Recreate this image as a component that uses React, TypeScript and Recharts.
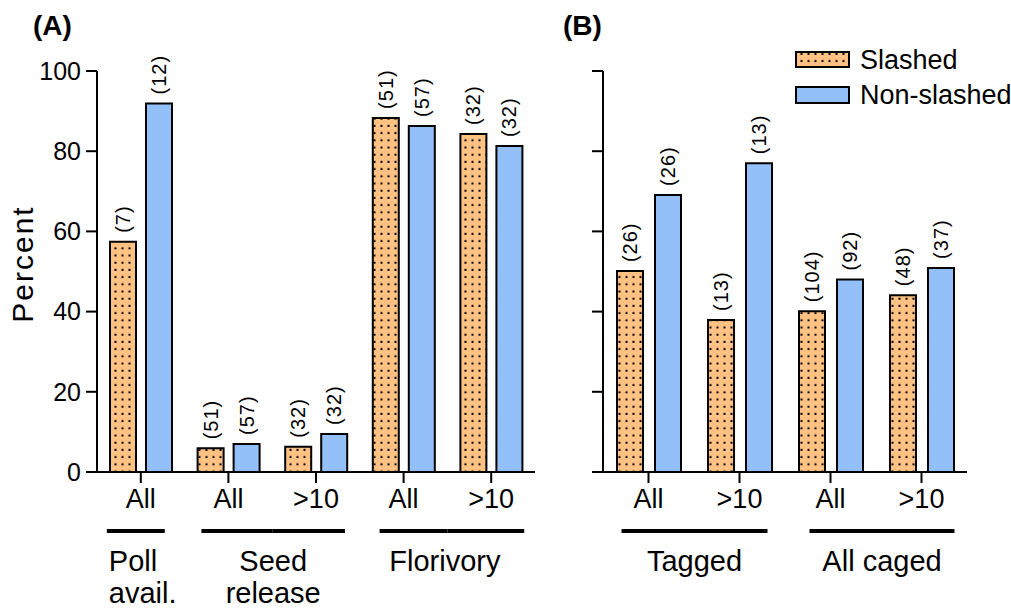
import React from "react";
import { BarChart, Bar, XAxis, YAxis, LabelList } from "recharts";

const FONT = '"Liberation Sans", Arial, Helvetica, sans-serif';
const ORANGE = "#FFC283";
const BLUE = "#93C0F8";

// Panel A
const catsA = ["All", "All", ">10", "All", ">10"];
const groupsA = ["Poll avail.", "Seed release", "Seed release", "Florivory", "Florivory"];
const slashedA = [57.4, 5.9, 6.3, 88.3, 84.3];
const nonSlashedA = [91.9, 7.0, 9.5, 86.3, 81.3];
const slashedNA = [7, 51, 32, 51, 32];
const nonSlashedNA = [12, 57, 32, 57, 32];

// Panel B
const catsB = ["All", ">10", "All", ">10"];
const groupsB = ["Tagged", "Tagged", "All caged", "All caged"];
const slashedB = [50.1, 37.9, 40.1, 44.1];
const nonSlashedB = [69.1, 77.0, 48.0, 50.9];
const slashedNB = [26, 13, 104, 48];
const nonSlashedNB = [26, 13, 92, 37];

const yTicks = [0, 20, 40, 60, 80, 100];

// how each group bracket + caption is drawn under the axis
const GROUP_LAYOUT: Record<
  string,
  { lines: string[]; padL: number; padR: number; anchor?: "start"; dx?: number }
> = {
  "Poll avail.": { lines: ["Poll", "avail."], padL: 34, padR: 24, anchor: "start" },
  "Seed release": { lines: ["Seed", "release"], padL: 27, padR: 29 },
  Florivory: { lines: ["Florivory"], padL: 24, padR: 33, dx: -7 },
  Tagged: { lines: ["Tagged"], padL: 27, padR: 28 },
  "All caged": { lines: ["All caged"], padL: 21, padR: 33 },
};

const makeRows = (
  cats: string[],
  s: number[],
  n: number[],
  sN: number[],
  nN: number[],
  prefix: string
) =>
  cats.map((_, i) => ({
    id: `${prefix}${i}`,
    slashed: s[i],
    nonSlashed: n[i],
    slashedN: sN[i],
    nonSlashedN: nN[i],
  }));

const rowsA = makeRows(catsA, slashedA, nonSlashedA, slashedNA, nonSlashedNA, "a");
const rowsB = makeRows(catsB, slashedB, nonSlashedB, slashedNB, nonSlashedNB, "b");

function NLabel(props: any) {
  const { x, y, width, value } = props;
  const cx = Number(x) + Number(width) / 2;
  const top = Number(y) - 9;
  return (
    <text
      transform={`translate(${cx},${top}) rotate(-90)`}
      textAnchor="start"
      dominantBaseline="central"
      fontSize={20}
      letterSpacing={1}
      fontFamily={FONT}
      fill="#000"
    >
      ({value})
    </text>
  );
}

const NoTick = () => <g />;

function GroupTick(props: any) {
  const { x, y, payload, cats, groups } = props;
  const i: number = props.index ?? payload.index;
  const half: number = payload.offset || 44;
  const g = groups[i];
  const L = GROUP_LAYOUT[g];
  const isFirst = i === 0 || groups[i - 1] !== g;
  const isLast = i === groups.length - 1 || groups[i + 1] !== g;
  let firstIdx = i;
  while (firstIdx > 0 && groups[firstIdx - 1] === g) firstIdx--;
  const firstX = x - (i - firstIdx) * 2 * half;
  const x1 = isFirst ? x - L.padL : x - half;
  const x2 = isLast ? x + L.padR : x + half;
  const lineY = y + 43;
  const start = firstX - L.padL;
  const end = x + L.padR;
  const tx = L.anchor === "start" ? start + 2 : (start + end) / 2 + (L.dx || 0);
  return (
    <g fontFamily={FONT} fill="#000">
      <text x={x} y={y + 20} textAnchor="middle" fontSize={27}>
        {cats[i]}
      </text>
      <line x1={x1} x2={x2} y1={lineY} y2={lineY} stroke="#000" strokeWidth={4} />
      {isLast &&
        L.lines.map((t, k) => (
          <text
            key={k}
            x={tx}
            y={y + 83 + k * 32}
            textAnchor={L.anchor || "middle"}
            fontSize={29}
          >
            {t}
          </text>
        ))}
    </g>
  );
}

function DotsPattern({ id }: { id: string }) {
  return (
    <pattern id={id} patternUnits="userSpaceOnUse" width={7} height={7.2}>
      <rect width={7} height={7.2} fill={ORANGE} />
      <rect x={2.5} y={2.5} width={2} height={2} fill="#000" />
    </pattern>
  );
}

type PanelProps = {
  rows: any[];
  cats: string[];
  groups: string[];
  width: number;
  left: number;
  margin: { top: number; right: number; bottom: number; left: number };
  yAxisWidth: number;
  showYLabels: boolean;
  barGap: number;
  patternId: string;
};

function Panel({
  rows,
  cats,
  groups,
  width,
  left,
  margin,
  yAxisWidth,
  showYLabels,
  barGap,
  patternId,
}: PanelProps) {
  return (
    <div style={{ position: "absolute", left, top: 0 }}>
      <BarChart
        width={width}
        height={609}
        data={rows}
        margin={margin}
        barSize={26}
        barGap={barGap}
      >
        <defs>
          <DotsPattern id={patternId} />
        </defs>
        <XAxis
          dataKey="id"
          type="category"
          interval={0}
          height={60}
          tickSize={11}
          tickMargin={5}
          axisLine={{ stroke: "#000", strokeWidth: 2 }}
          tickLine={{ stroke: "#000", strokeWidth: 2 }}
          tick={<GroupTick cats={cats} groups={groups} />}
        />
        <YAxis
          type="number"
          domain={[0, 100]}
          ticks={yTicks}
          interval={0}
          width={yAxisWidth}
          tickSize={11}
          tickMargin={5}
          axisLine={{ stroke: "#000", strokeWidth: 2 }}
          tickLine={{ stroke: "#000", strokeWidth: 2 }}
          tick={showYLabels ? { fill: "#000", fontSize: 25, fontFamily: FONT } : <NoTick />}
        />
        <Bar
          dataKey="slashed"
          fill={`url(#${patternId})`}
          stroke="#000"
          strokeWidth={2}
          isAnimationActive={false}
        >
          <LabelList dataKey="slashedN" content={NLabel} />
        </Bar>
        <Bar
          dataKey="nonSlashed"
          fill={BLUE}
          stroke="#000"
          strokeWidth={2}
          isAnimationActive={false}
        >
          <LabelList dataKey="nonSlashedN" content={NLabel} />
        </Bar>
      </BarChart>
    </div>
  );
}

export default function App() {
  return (
    <div
      style={{
        position: "absolute",
        left: 0,
        top: 0,
        width: 1011,
        height: 609,
        background: "#fff",
        fontFamily: FONT,
      }}
    >
      <Panel
        rows={rowsA}
        cats={catsA}
        groups={groupsA}
        width={560}
        left={0}
        margin={{ top: 71, right: 25, bottom: 77, left: 37 }}
        yAxisWidth={60}
        showYLabels={true}
        barGap={10}
        patternId="dotsA"
      />
      <Panel
        rows={rowsB}
        cats={catsB}
        groups={groupsB}
        width={451}
        left={560}
        margin={{ top: 71, right: 44, bottom: 77, left: 13 }}
        yAxisWidth={30}
        showYLabels={false}
        barGap={12}
        patternId="dotsB"
      />
      <svg
        width={1011}
        height={609}
        style={{ position: "absolute", left: 0, top: 0, pointerEvents: "none" }}
        fontFamily={FONT}
      >
        <defs>
          <DotsPattern id="dotsLegend" />
        </defs>
        <text x={33} y={35} fontSize={28} fontWeight="bold" fill="#000">
          (A)
        </text>
        <text x={563} y={35} fontSize={28} fontWeight="bold" fill="#000">
          (B)
        </text>
        <text
          transform="translate(33,264) rotate(-90)"
          textAnchor="middle"
          fontSize={30}
          letterSpacing={2}
          fill="#000"
        >
          Percent
        </text>
        <rect x={796} y={52} width={53} height={15} fill="url(#dotsLegend)" stroke="#000" strokeWidth={2} />
        <rect x={796} y={87} width={53} height={16} fill={BLUE} stroke="#000" strokeWidth={2} />
        <text x={860} y={69} fontSize={27} fill="#000">
          Slashed
        </text>
        <text x={860} y={104} fontSize={27} fill="#000">
          Non-slashed
        </text>
      </svg>
    </div>
  );
}
